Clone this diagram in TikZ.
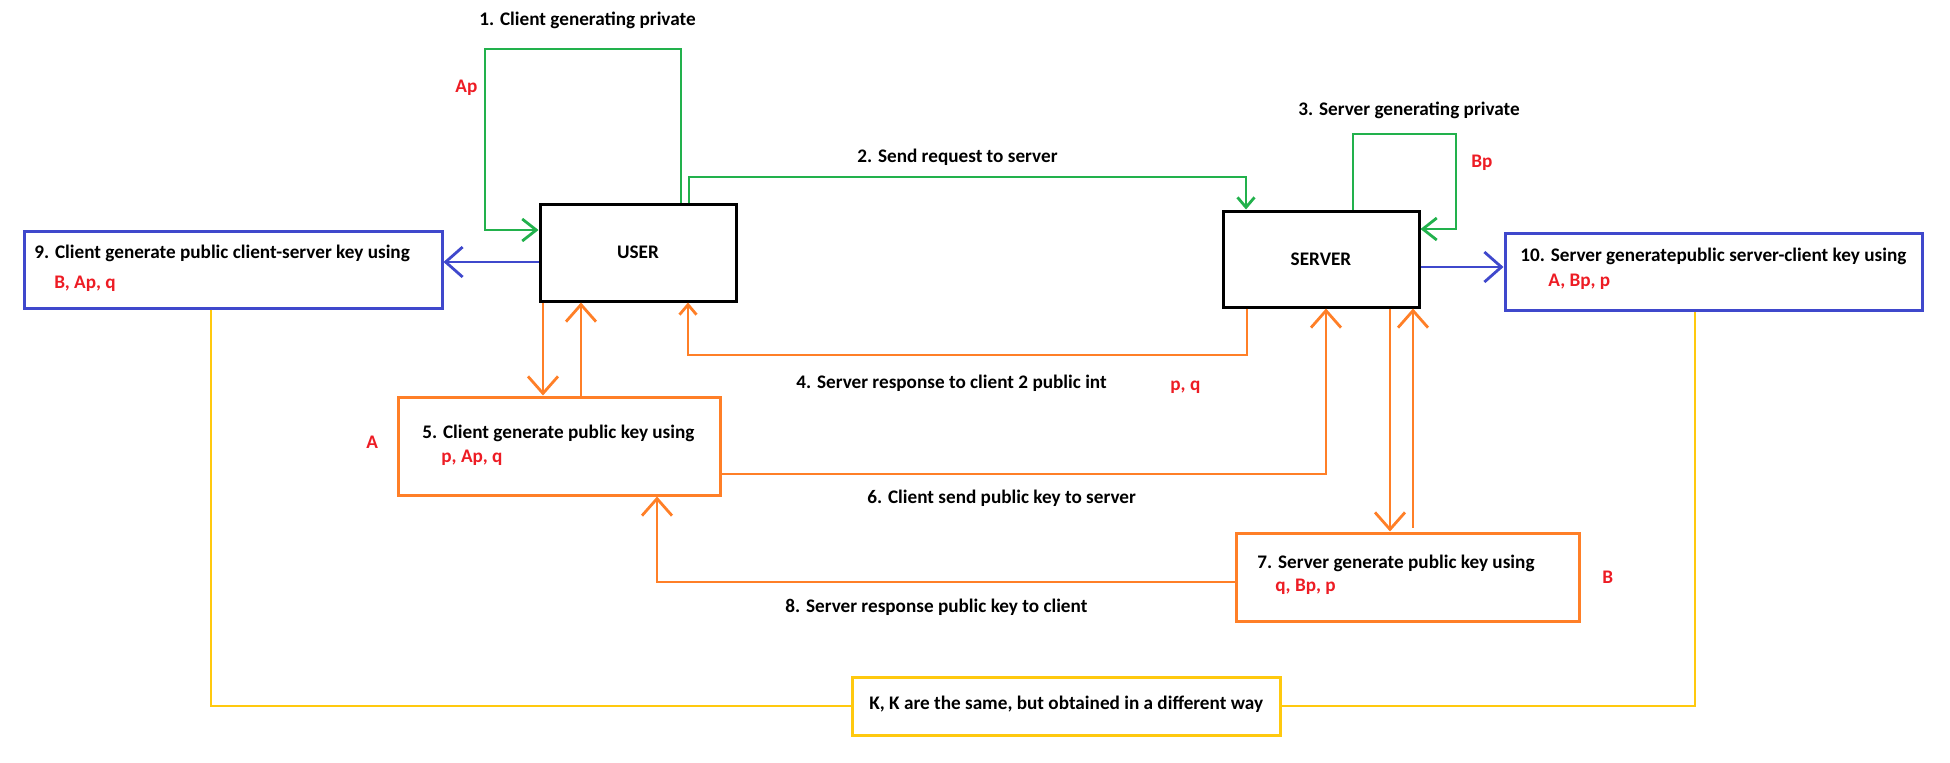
\documentclass[tikz,border=0pt]{standalone}
\usepackage{fontspec}
\setmainfont{Carlito}
\definecolor{pgreen}{HTML}{22B14C}
\definecolor{porange}{HTML}{FF7F27}
\definecolor{pblue}{HTML}{3F48CC}
\definecolor{pyellow}{HTML}{FFC90E}
\definecolor{pred}{HTML}{ED1C24}
\usepackage{tikz}
\usetikzlibrary{arrows.meta}

\begin{document}
\begin{tikzpicture}[x=0.5pt, y=-0.5pt,
    box/.style={draw, line width=1.5pt, inner sep=0pt, font=\bfseries\fontsize{9.6}{11}\selectfont},
    lbl/.style={anchor=west, inner sep=0pt, font=\bfseries\fontsize{9.6}{11}\selectfont},
    val/.style={lbl, pred},
    wire/.style={line width=1.4pt},
    tipL/.style={-{Straight Barb[length=8.5pt, width=15pt]}},
    tipM/.style={-{Straight Barb[length=7pt, width=11pt]}},
    tipS/.style={-{Straight Barb[length=5pt, width=8.5pt]}}]
  \useasboundingbox (0,0) rectangle (1950,762);
  % Parties
  \node[box, minimum width=98pt, minimum height=48.5pt] (user) at (638,252.5) {USER};
  \node[box, minimum width=98pt, minimum height=48pt] (server) at (1321,259) {SERVER};
  % Key boxes
  \node[box, pblue, minimum width=209pt, minimum height=38.5pt] (cskey) at (233,269.5) {};
  \node[box, pblue, minimum width=208.5pt, minimum height=38.5pt] (sckey) at (1713.5,271.5) {};
  \node[box, porange, minimum width=161pt, minimum height=49pt] (cpub) at (559,446) {};
  \node[box, porange, minimum width=171.5pt, minimum height=44pt] (spub) at (1407.5,577) {};
  \node[box, pyellow, minimum width=214pt, minimum height=29pt] (same) at (1066,706) {};
  % Green: private keys and request
  \draw[wire, pgreen, tipM] (user.north -| 681,0) -- (681,49) -- (485,49) |- (user.west |- 0,230);
  \draw[wire, pgreen, tipS] (user.north -| 689,0) |- (1246,177) -- (server.north -| 1246,0);
  \draw[wire, pgreen, tipM] (server.north -| 1353,0) -- (1353,134) -- (1456,134) |- (server.east |- 0,229);
  % Orange: public ints and public keys
  \draw[wire, porange, tipS] (server.south -| 1247,0) |- (688,355) -- (user.south -| 688,0);
  \draw[wire, porange, tipL] (user.south -| 543,0) -- (cpub.north -| 543,0);
  \draw[wire, porange, tipL] (cpub.north -| 581,0) -- (user.south -| 581,0);
  \draw[wire, porange, tipL] (cpub.east |- 0,474) -| (server.south -| 1326,0);
  \draw[wire, porange, tipL] (server.south -| 1390,0) -- (spub.north -| 1390,0);
  \draw[wire, porange, tipL, shorten <=2pt] (spub.north -| 1413,0) -- (server.south -| 1413,0);
  \draw[wire, porange, tipL] (spub.west |- 0,582) -| (cpub.south -| 657,0);
  % Blue: shared keys
  \draw[wire, pblue, tipL] (user.west |- 0,262) -- (cskey.east |- 0,262);
  \draw[wire, pblue, tipL] (server.east |- 0,267) -- (sckey.west |- 0,267);
  % Yellow: comparison
  \draw[wire, pyellow] (cskey.south -| 211,0) |- (same.west);
  \draw[wire, pyellow] (same.east) -| (sckey.south -| 1695,0);
  % Labels
  \node[lbl] (t1) at (479,20) {1. Client generating private};
  \node[val] (ap) at (455,88) {Ap};
  \node[lbl] (t2) at (857,157) {2. Send request to server};
  \node[lbl] (t3) at (1298,110) {3. Server generating private};
  \node[val] (bp) at (1471,163) {Bp};
  \node[lbl] (t4) at (796,383) {4. Server response to client 2 public int};
  \node[val] (pq) at (1170,387) {p, q};
  \node[lbl] (t5) at (422,433) {5. Client generate public key using};
  \node[val] (t5v) at (441,458) {p, Ap, q};
  \node[val] (pa) at (366,442) {A};
  \node[lbl] (t6) at (867,498) {6. Client send public key to server};
  \node[lbl] (t7) at (1257,563) {7. Server generate public key using};
  \node[val] (t7v) at (1275,587) {q, Bp, p};
  \node[val] (pb) at (1602,577) {B};
  \node[lbl] (t8) at (785,607) {8. Server response public key to client};
  \node[lbl] (t9) at (34,253) {9. Client generate public client-server key using};
  \node[val] (t9v) at (54,284) {B, Ap, q};
  \node[lbl] (t10) at (1520,256) {10. Server generatepublic server-client key using};
  \node[val] (t10v) at (1548,282) {A, Bp, p};
  \node[lbl] (tk) at (869,704) {K, K are the same, but obtained in a different way};
\end{tikzpicture}
\end{document}
